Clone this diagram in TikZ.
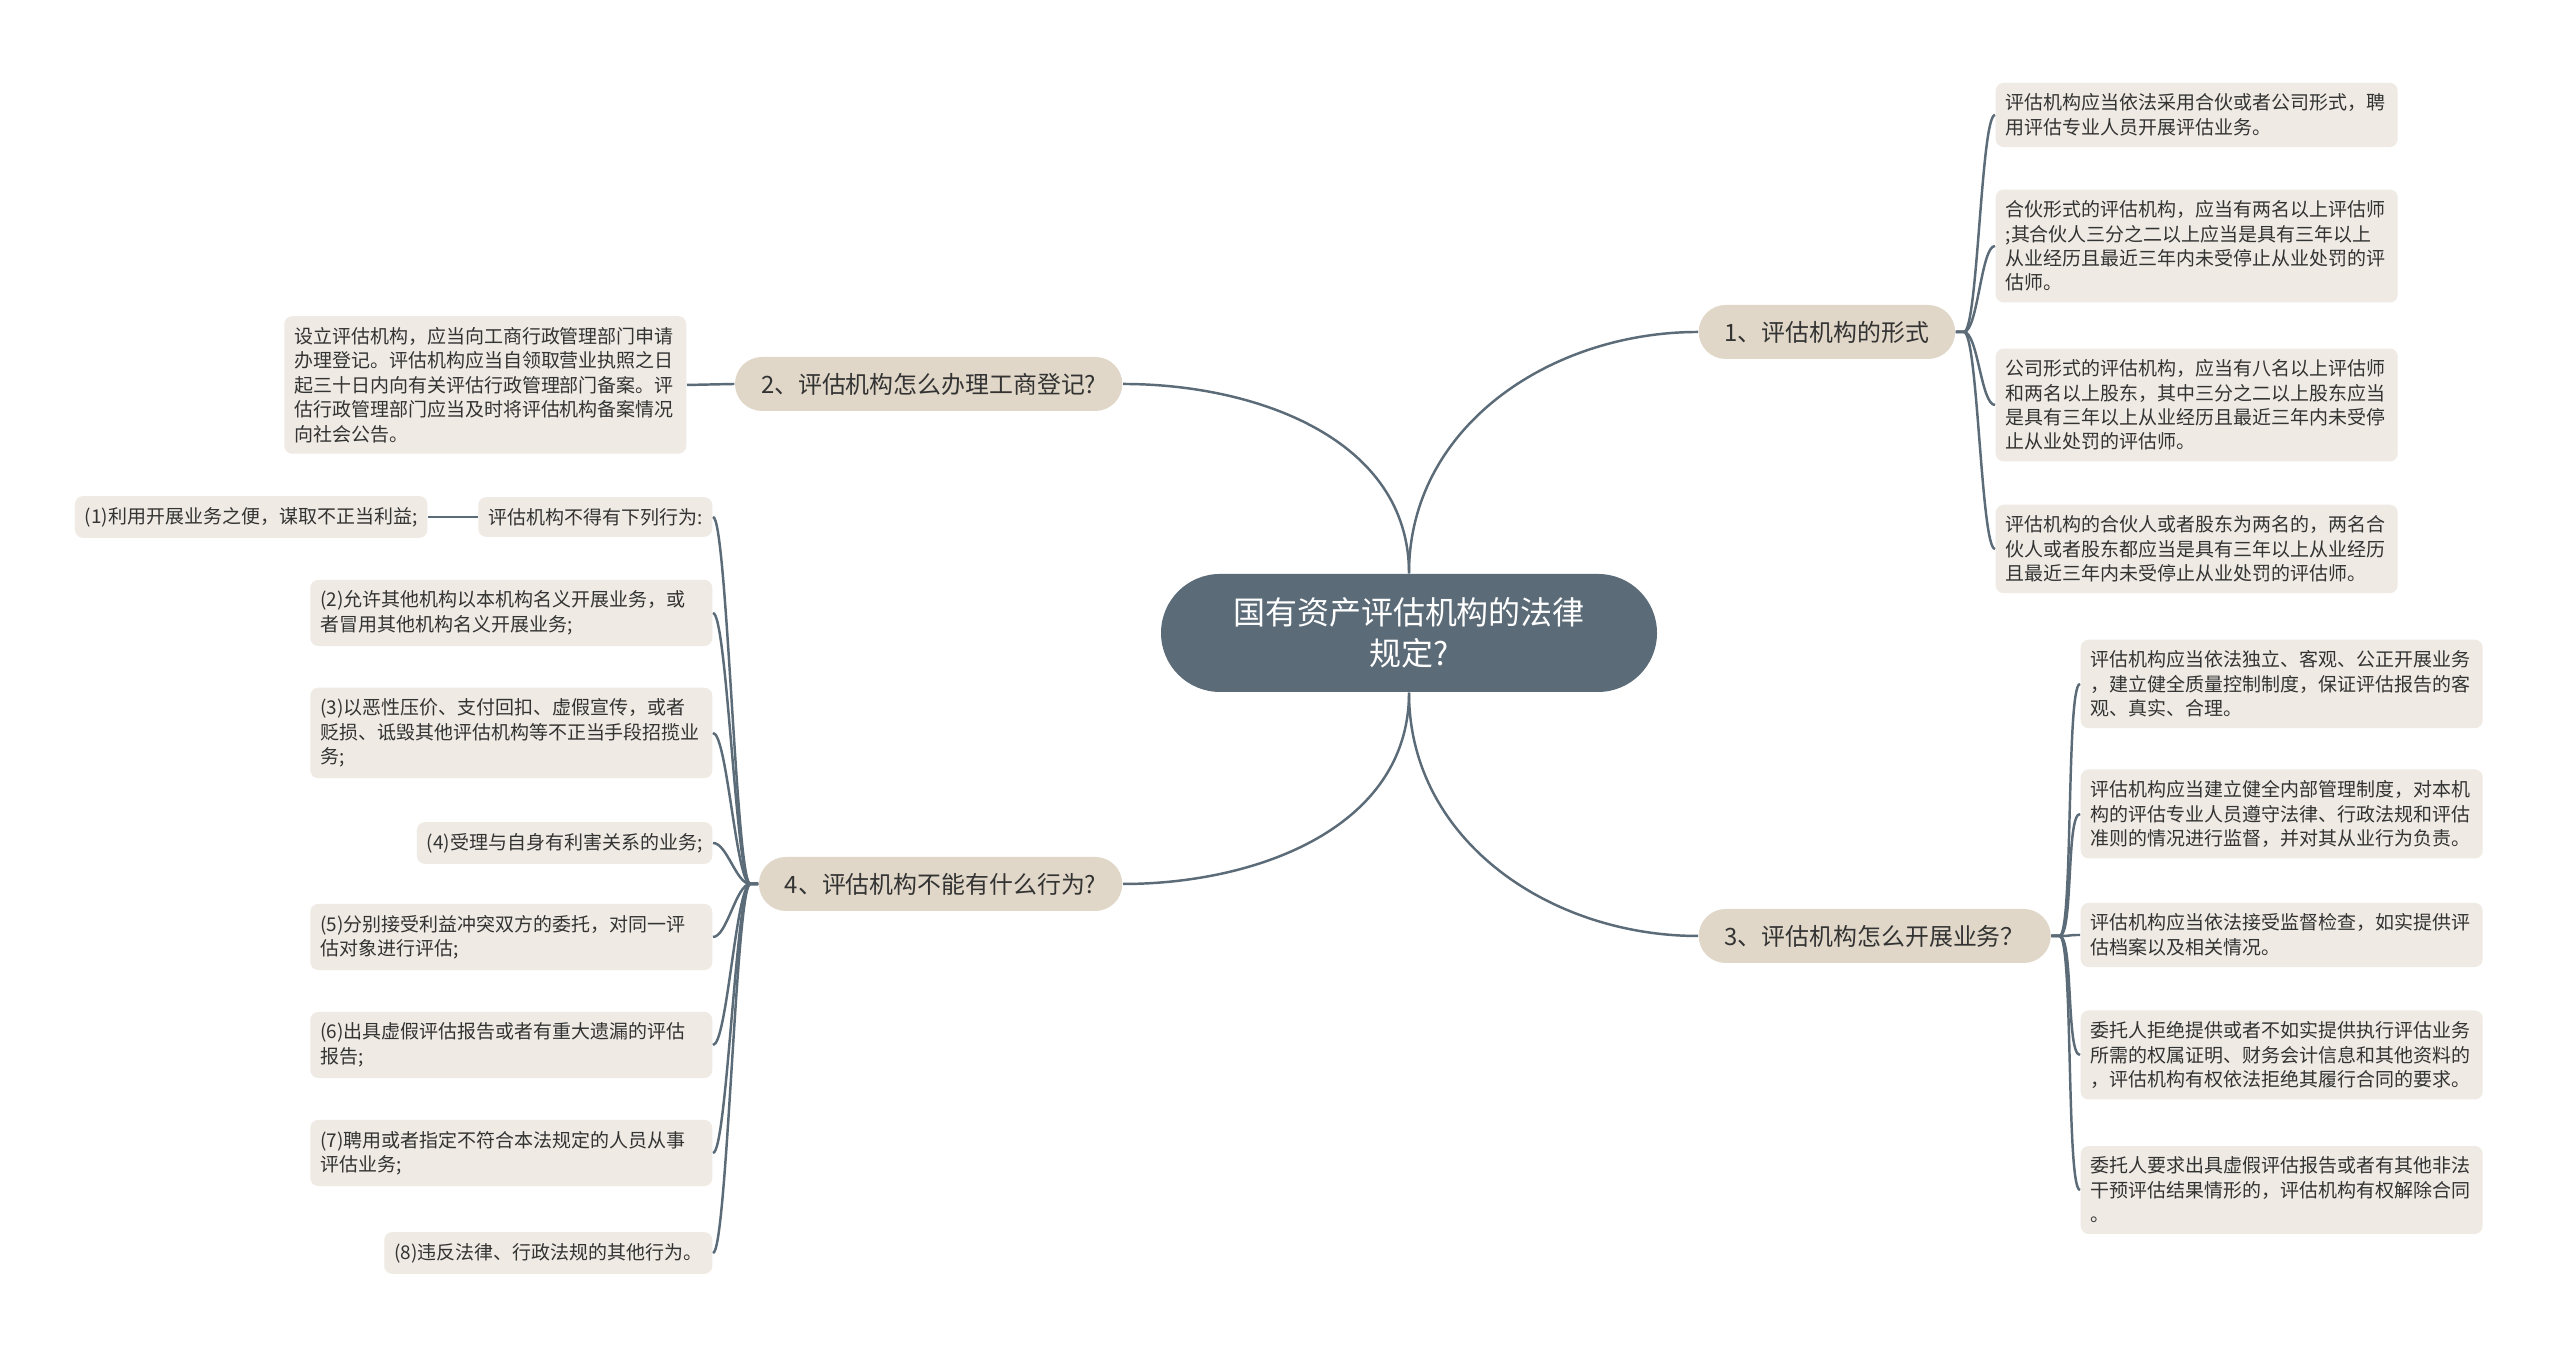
\documentclass[tikz,border=0pt]{standalone}
\usepackage{fontspec}
\setmainfont{Noto Sans CJK SC}
\usepackage{xcolor}
\usepackage{tikz}
\definecolor{slate}{HTML}{5B6B77}
\definecolor{topicfill}{HTML}{E0D7C8}
\definecolor{notefill}{HTML}{EFEBE4}
\definecolor{ink}{HTML}{333333}

\begin{document}
\begin{tikzpicture}[
  link/.style={draw=slate,line width=0.7pt},
  rootbox/.style={fill=slate,text=white,rounded corners=0.59cm,minimum height=1.18cm,
    text width=3.56cm,align=center,inner xsep=0.7cm,font=\fontsize{9.1pt}{11.7pt}\selectfont},
  topic/.style={fill=topicfill,text=ink,rounded corners=0.27cm,minimum height=0.54cm,
    inner xsep=0.26cm,inner ysep=0pt,font=\fontsize{6.8pt}{8pt}\selectfont},
  note/.style={fill=notefill,text=ink,rounded corners=0.08cm,inner xsep=0.1cm,inner ysep=0.11cm,
    align=left,font=\fontsize{5.4pt}{6.95pt}\selectfont},
  para/.style={note,text width=3.82cm}]
  \path[fill=white,use as bounding box] (0,0) rectangle (25.6,13.55);

  \node[rootbox] (root) at (14.09,7.22) {国有资产评估机构的法律\\规定?};

  \node[topic,anchor=west] (t1) at (16.98,10.23) {1、评估机构的形式};
  \node[topic,anchor=east] (t2) at (11.23,9.71) {2、评估机构怎么办理工商登记?};
  \node[topic,anchor=west] (t3) at (16.98,4.19) {3、评估机构怎么开展业务？};
  \node[topic,anchor=east] (t4) at (11.23,4.71) {4、评估机构不能有什么行为?};

  \node[para,anchor=west] (f1) at (19.95,12.40) {评估机构应当依法采用合伙或者公司形式，聘\\用评估专业人员开展评估业务。};
  \node[para,anchor=west] (f2) at (19.95,11.09) {合伙形式的评估机构，应当有两名以上评估师\\;其合伙人三分之二以上应当是具有三年以上\\从业经历且最近三年内未受停止从业处罚的评\\估师。};
  \node[para,anchor=west] (f3) at (19.95,9.50) {公司形式的评估机构，应当有八名以上评估师\\和两名以上股东，其中三分之二以上股东应当\\是具有三年以上从业经历且最近三年内未受停\\止从业处罚的评估师。};
  \node[para,anchor=west] (f4) at (19.95,8.06) {评估机构的合伙人或者股东为两名的，两名合\\伙人或者股东都应当是具有三年以上从业经历\\且最近三年内未受停止从业处罚的评估师。};

  \node[para,anchor=east] (g1) at (6.87,9.70) {设立评估机构，应当向工商行政管理部门申请\\办理登记。评估机构应当自领取营业执照之日\\起三十日内向有关评估行政管理部门备案。评\\估行政管理部门应当及时将评估机构备案情况\\向社会公告。};

  \node[para,anchor=west] (s1) at (20.80,6.71) {评估机构应当依法独立、客观、公正开展业务\\，建立健全质量控制制度，保证评估报告的客\\观、真实、合理。};
  \node[para,anchor=west] (s2) at (20.80,5.41) {评估机构应当建立健全内部管理制度，对本机\\构的评估专业人员遵守法律、行政法规和评估\\准则的情况进行监督，并对其从业行为负责。};
  \node[para,anchor=west] (s3) at (20.80,4.20) {评估机构应当依法接受监督检查，如实提供评\\估档案以及相关情况。};
  \node[para,anchor=west] (s4) at (20.80,3.00) {委托人拒绝提供或者不如实提供执行评估业务\\所需的权属证明、财务会计信息和其他资料的\\，评估机构有权依法拒绝其履行合同的要求。};
  \node[para,anchor=west] (s5) at (20.80,1.65) {委托人要求出具虚假评估报告或者有其他非法\\干预评估结果情形的，评估机构有权解除合同\\。};

  \node[note,anchor=east] (p0) at (7.13,8.38) {评估机构不得有下列行为:};
  \node[note,anchor=east] (p1) at (4.28,8.38) {(1)利用开展业务之便，谋取不正当利益;};
  \node[para,anchor=east] (p2) at (7.13,7.42) {(2)允许其他机构以本机构名义开展业务，或\\者冒用其他机构名义开展业务;};
  \node[para,anchor=east] (p3) at (7.13,6.22) {(3)以恶性压价、支付回扣、虚假宣传，或者\\贬损、诋毁其他评估机构等不正当手段招揽业\\务;};
  \node[note,anchor=east] (p4) at (7.13,5.12) {(4)受理与自身有利害关系的业务;};
  \node[para,anchor=east] (p5) at (7.13,4.18) {(5)分别接受利益冲突双方的委托，对同一评\\估对象进行评估;};
  \node[para,anchor=east] (p6) at (7.13,3.10) {(6)出具虚假评估报告或者有重大遗漏的评估\\报告;};
  \node[para,anchor=east] (p7) at (7.13,2.02) {(7)聘用或者指定不符合本法规定的人员从事\\评估业务;};
  \node[note,anchor=east] (p8) at (7.13,1.02) {(8)违反法律、行政法规的其他行为。};

  \draw[link] (root.north) to[out=90,in=180] (t1.west);
  \draw[link] (root.north) to[out=90,in=0] (t2.east);
  \draw[link] (root.south) to[out=-90,in=180] (t3.west);
  \draw[link] (root.south) to[out=-90,in=0] (t4.east);

  \draw[link] (t1.east) -- ++(0.08,0) .. controls +(0.14,0) and +(-0.14,0) .. (f1.west);
  \draw[link] (t1.east) -- ++(0.08,0) .. controls +(0.14,0) and +(-0.14,0) .. (f2.west);
  \draw[link] (t1.east) -- ++(0.08,0) .. controls +(0.14,0) and +(-0.14,0) .. (f3.west);
  \draw[link] (t1.east) -- ++(0.08,0) .. controls +(0.14,0) and +(-0.14,0) .. (f4.west);

  \draw[link] (t2.west) -- (g1.east);

  \draw[link] (t3.east) -- ++(0.08,0) .. controls +(0.14,0) and +(-0.14,0) .. (s1.west);
  \draw[link] (t3.east) -- ++(0.08,0) .. controls +(0.14,0) and +(-0.14,0) .. (s2.west);
  \draw[link] (t3.east) -- ++(0.08,0) .. controls +(0.14,0) and +(-0.14,0) .. (s3.west);
  \draw[link] (t3.east) -- ++(0.08,0) .. controls +(0.14,0) and +(-0.14,0) .. (s4.west);
  \draw[link] (t3.east) -- ++(0.08,0) .. controls +(0.14,0) and +(-0.14,0) .. (s5.west);

  \draw[link] (t4.west) -- ++(-0.08,0) .. controls +(-0.14,0) and +(0.14,0) .. (p0.east);
  \draw[link] (t4.west) -- ++(-0.08,0) .. controls +(-0.14,0) and +(0.14,0) .. (p2.east);
  \draw[link] (t4.west) -- ++(-0.08,0) .. controls +(-0.14,0) and +(0.14,0) .. (p3.east);
  \draw[link] (t4.west) -- ++(-0.08,0) .. controls +(-0.14,0) and +(0.14,0) .. (p4.east);
  \draw[link] (t4.west) -- ++(-0.08,0) .. controls +(-0.14,0) and +(0.14,0) .. (p5.east);
  \draw[link] (t4.west) -- ++(-0.08,0) .. controls +(-0.14,0) and +(0.14,0) .. (p6.east);
  \draw[link] (t4.west) -- ++(-0.08,0) .. controls +(-0.14,0) and +(0.14,0) .. (p7.east);
  \draw[link] (t4.west) -- ++(-0.08,0) .. controls +(-0.14,0) and +(0.14,0) .. (p8.east);
  \draw[link] (p0.west) -- (p1.east);
\end{tikzpicture}
\end{document}
